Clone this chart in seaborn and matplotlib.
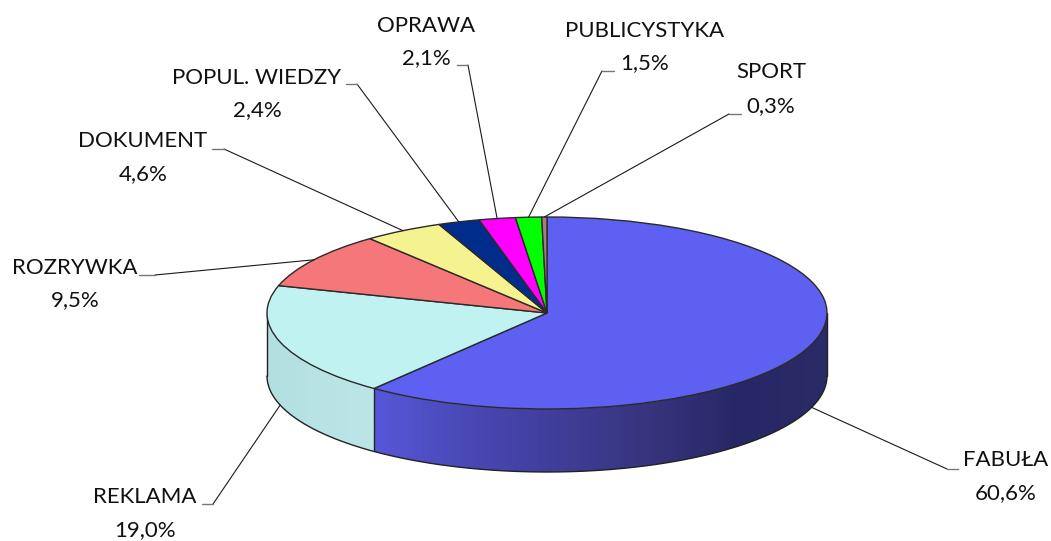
import numpy as np
import matplotlib
matplotlib.use('Agg')
import matplotlib.pyplot as plt
from matplotlib.patches import Polygon
import seaborn as sns

# udzial gatunkow, od gory zgodnie z ruchem wskazowek
categories = ['FABUŁA', 'REKLAMA', 'ROZRYWKA', 'DOKUMENT', 'POPUL. WIEDZY', 'OPRAWA', 'PUBLICYSTYKA', 'SPORT']
shares = [60.6, 19.0, 9.5, 4.6, 2.4, 2.1, 1.5, 0.3]
pct_labels = ['60,6%', '19,0%', '9,5%', '4,6%', '2,4%', '2,1%', '1,5%', '0,3%']
top_colors = ['#5D60F1', '#C0F2F2', '#F57779', '#F4F390', '#002D8C', '#FF00FF', '#00FF00', '#A87C80']

# layout in image pixels
W, H = 1051, 541
CX, CY, RX, RY = 547, 313, 280, 96
DEPTH = 63 / RY
# centre x, y of name, y of percent, stub x, stub y, elbow x
label_x = [1006, 145, 75, 143, 257, 426, 645, 771]
name_y = [460, 497, 268, 141, 78, 26, 31, 72]
pct_y = [493, 530, 300, 174, 110, 58, 63, 106]
stub_x = [958, 202, 139, 212, 346, 457, 614, 741]
stub_y = [469, 504, 275, 149, 84, 65, 71, 114]
elbow_x = [947, 213, 155, 224, 357, 468, 602, 729]


def px_x(x):
    return (x - CX) / RX


def px_y(y):
    return (CY - y) / RY


def rim(angle):
    return np.sin(np.radians(angle)), np.cos(np.radians(angle))


sns.set_theme(style='white')
plt.rcParams['font.family'] = ['Lato', 'DejaVu Sans']

fig = plt.figure(figsize=(W / 100, H / 100), dpi=100)
ax = fig.add_axes([0, 0, 1, 1])

edges = np.cumsum([0] + shares) * 3.6

# side wall: only the front part of the first two slices shows
blue_wall = sns.blend_palette(['#5657D8', '#4A49B6', '#403E9A', '#37357E', '#282766', '#2A2B66'], 300)
aqua_wall = sns.blend_palette(['#B2DFE0', '#B8E3E4', '#BCE6E6'], 100)
for start, stop, pal in [(90, edges[1], blue_wall), (edges[1], 270, aqua_wall)]:
    arc = np.linspace(start, stop, 150)
    xs, ys = rim(arc)
    outline = np.column_stack([np.r_[xs, xs[::-1]], np.r_[ys, ys[::-1] - DEPTH]])
    img = ax.imshow(np.array(pal)[None, :, :], aspect='auto', zorder=1,
                    extent=(xs.min(), xs.max(), ys.min() - DEPTH, ys.max()))
    img.set_clip_path(Polygon(outline, transform=ax.transData))

front = np.linspace(90, 270, 200)
xs, ys = rim(front)
ax.plot(xs, ys - DEPTH, color='#222222', lw=1, zorder=2)
for a in (90, edges[1], 270):
    x, y = rim(a)
    ax.plot([x, x], [y, y - DEPTH], color='#222222', lw=1, zorder=2)

wedges, _ = ax.pie(shares, colors=top_colors, startangle=90, counterclock=False,
                   wedgeprops={'edgecolor': '#2A2A2A', 'linewidth': 1})
for w in wedges:
    w.set_zorder(3)

ax.set_aspect('auto')
ax.set_xlim(px_x(0), px_x(W))
ax.set_ylim(px_y(H), px_y(0))
ax.axis('off')

# leader lines start on the rim at the middle of each slice
for i, name in enumerate(categories):
    mid = (edges[i] + edges[i + 1]) / 2
    x, y = rim(mid)
    if np.cos(np.radians(mid)) < 0:
        y -= DEPTH
    ax.plot([x, px_x(elbow_x[i])], [y, px_y(stub_y[i])], color='#1A1A1A', lw=0.8, zorder=4)
    ax.plot([px_x(elbow_x[i]), px_x(stub_x[i])], [px_y(stub_y[i])] * 2, color='#777777', lw=1, zorder=4)
    ax.text(px_x(label_x[i]), px_y(name_y[i]), name, ha='center', va='center', fontsize=16, color='#111111')
    ax.text(px_x(label_x[i]), px_y(pct_y[i]), pct_labels[i], ha='center', va='center', fontsize=16, color='#111111')

fig.savefig('out.png', dpi=100, facecolor='white')
